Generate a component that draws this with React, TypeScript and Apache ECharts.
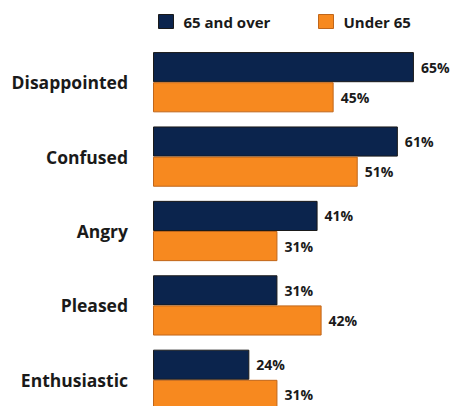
import React, { useEffect, useRef } from "react";
import * as echarts from "echarts";

const categories = ["Disappointed", "Confused", "Angry", "Pleased", "Enthusiastic"];
const seriesNames = ["65 and over", "Under 65"];
const over65 = [65, 61, 41, 31, 24];
const under65 = [45, 51, 31, 42, 31];

const FONT = "'Open Sans', 'Liberation Sans', sans-serif";

export default function App() {
  const ref = useRef<HTMLDivElement>(null);
  useEffect(() => {
    if (!ref.current) return;
    const chart = echarts.init(ref.current, null, { renderer: "svg" });
    const labelStyle = {
      show: true,
      position: "right" as const,
      distance: 7,
      formatter: "{c}%",
      fontFamily: FONT,
      fontWeight: "bold" as const,
      fontSize: 14,
      color: "#1a1a1a",
    };
    const legendText = { fontFamily: FONT, fontWeight: "bold" as const, fontSize: 15, color: "#1a1a1a", padding: [0, 0, 0, 5] };
    chart.setOption({
      animation: false,
      legend: [
        {
          data: [seriesNames[0]],
          left: 153,
          top: 9,
          icon: "rect",
          itemWidth: 15,
          itemHeight: 14,
          itemGap: 0,
          itemStyle: { borderColor: "#1a1a1a", borderWidth: 1 },
          textStyle: legendText,
        },
        {
          data: [seriesNames[1]],
          left: 313,
          top: 9,
          icon: "rect",
          itemWidth: 15,
          itemHeight: 14,
          itemGap: 0,
          itemStyle: { borderColor: "#c0661a", borderWidth: 1 },
          textStyle: legendText,
        },
      ],
      grid: { left: 153, top: 45, width: 281, height: 372, containLabel: false },
      xAxis: {
        type: "value",
        min: 0,
        max: 70,
        show: false,
      },
      yAxis: {
        type: "category",
        data: categories,
        inverse: true,
        axisLine: { show: false },
        axisTick: { show: false },
        axisLabel: {
          margin: 25,
          fontFamily: FONT,
          fontWeight: "bold",
          fontSize: 17.5,
          color: "#1a1a1a",
        },
      },
      series: [
        {
          name: seriesNames[0],
          type: "bar",
          data: over65,
          barCategoryGap: "19%",
          barGap: "0%",
          itemStyle: { color: "#0b244d", borderColor: "#1a1a1a", borderWidth: 1 },
          label: labelStyle,
        },
        {
          name: seriesNames[1],
          type: "bar",
          data: under65,
          barCategoryGap: "19%",
          barGap: "0%",
          itemStyle: { color: "#f7891f", borderColor: "#c0661a", borderWidth: 1 },
          label: labelStyle,
        },
      ],
    });
    return () => chart.dispose();
  }, []);
  return (
    <div style={{ width: 450, height: 406, position: "absolute", left: 0, top: 0, overflow: "hidden" }}>
      <div ref={ref} style={{ width: 450, height: 425 }} />
    </div>
  );
}
